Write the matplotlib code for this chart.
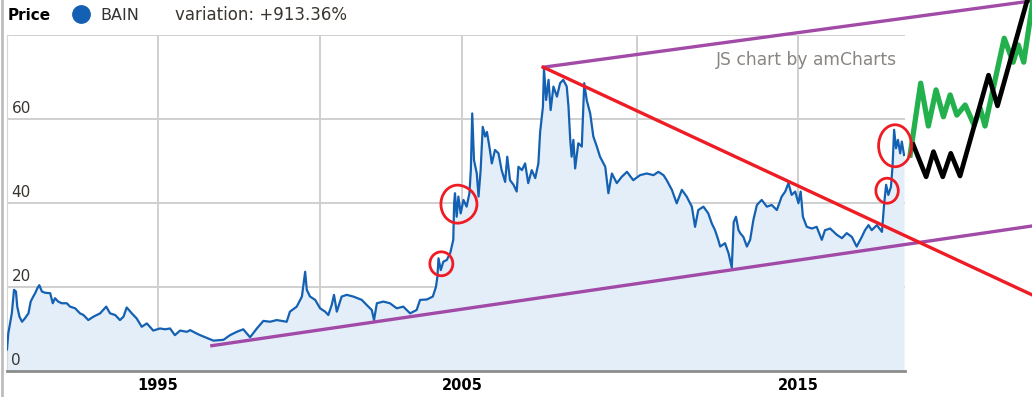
import matplotlib.pyplot as plt
import numpy as np
from matplotlib.patches import Ellipse
from matplotlib.lines import Line2D

# BAIN price history (decimal year, price)
years = [1990.28, 1990.32, 1990.43, 1990.50, 1990.56, 1990.60, 1990.67, 1990.75, 1990.84, 1990.95,
         1991.02, 1991.10, 1991.16, 1991.23, 1991.29, 1991.37, 1991.47, 1991.63, 1991.71, 1991.78,
         1991.88, 1991.99, 1992.15, 1992.25, 1992.41, 1992.56, 1992.67, 1992.82, 1992.98, 1993.19,
         1993.38, 1993.50, 1993.66, 1993.81, 1993.92, 1994.02, 1994.18, 1994.33, 1994.49, 1994.65,
         1994.85, 1995.06, 1995.22, 1995.37, 1995.52, 1995.68, 1995.89, 1995.99, 1996.19, 1996.30,
         1996.71, 1997.02, 1997.22, 1997.43, 1997.63, 1997.84, 1998.05, 1998.25, 1998.46, 1998.66,
         1998.97, 1999.07, 1999.28, 1999.44, 1999.54, 1999.59, 1999.69, 1999.85, 2000.00, 2000.18,
         2000.29, 2000.41, 2000.49, 2000.59, 2000.76, 2000.94, 2001.17, 2001.47, 2001.64, 2001.82,
         2001.90, 2002.00, 2002.23, 2002.46, 2002.70, 2002.93, 2003.17, 2003.40, 2003.52, 2003.76,
         2003.97, 2004.08, 2004.13, 2004.17, 2004.25, 2004.34, 2004.46, 2004.58, 2004.69, 2004.72,
         2004.75, 2004.81, 2004.87, 2004.95, 2005.04, 2005.13, 2005.21, 2005.25, 2005.29, 2005.34,
         2005.42, 2005.47, 2005.53, 2005.59, 2005.66, 2005.71, 2005.78, 2005.85, 2005.94, 2006.04,
         2006.13, 2006.23, 2006.29, 2006.37, 2006.47, 2006.56, 2006.61, 2006.71, 2006.80, 2006.89,
         2006.99, 2007.09, 2007.18, 2007.23, 2007.31, 2007.34, 2007.40, 2007.47, 2007.53, 2007.61,
         2007.71, 2007.80, 2007.89, 2007.99, 2008.04, 2008.06, 2008.09, 2008.13, 2008.18, 2008.23,
         2008.32, 2008.42, 2008.49, 2008.56, 2008.66, 2008.75, 2008.85, 2008.94, 2009.09, 2009.18,
         2009.28, 2009.42, 2009.56, 2009.71, 2009.89, 2010.09, 2010.30, 2010.51, 2010.66, 2010.82,
         2010.92, 2011.08, 2011.23, 2011.39, 2011.54, 2011.70, 2011.80, 2011.90, 2012.06, 2012.21,
         2012.32, 2012.42, 2012.52, 2012.58, 2012.73, 2012.84, 2012.94, 2013.00, 2013.07, 2013.15,
         2013.20, 2013.30, 2013.41, 2013.51, 2013.61, 2013.72, 2013.87, 2014.03, 2014.18, 2014.34,
         2014.49, 2014.60, 2014.70, 2014.80, 2014.91, 2015.01, 2015.08, 2015.15, 2015.27, 2015.43,
         2015.58, 2015.74, 2015.84, 2016.00, 2016.21, 2016.37, 2016.52, 2016.68, 2016.83, 2016.99,
         2017.09, 2017.20, 2017.30, 2017.46, 2017.62, 2017.69, 2017.75, 2017.82, 2017.90, 2017.95,
         2018.00, 2018.06, 2018.12, 2018.19, 2018.24, 2018.31]
prices = [5.2, 9.0, 13.8, 19.4, 19.0, 15.4, 13.0, 11.8, 12.6, 13.8,
          16.6, 17.8, 18.6, 19.8, 20.5, 19.0, 18.7, 18.6, 16.2, 17.4,
          16.6, 16.2, 16.2, 15.4, 15.0, 13.8, 13.4, 12.2, 13.0, 13.8,
          15.4, 13.8, 13.4, 12.2, 13.0, 15.2, 13.8, 12.6, 10.6, 11.4,
          9.7, 10.2, 10.0, 10.2, 8.6, 9.7, 9.4, 9.8, 9.0, 8.6,
          7.3, 7.5, 8.6, 9.4, 10.0, 8.1, 10.2, 12.0, 11.8, 12.2,
          11.8, 14.2, 15.4, 17.8, 23.7, 19.4, 17.8, 17.0, 15.0, 14.2,
          13.4, 15.8, 18.2, 14.2, 17.8, 18.2, 17.8, 17.0, 15.8, 14.6,
          12.2, 16.2, 16.6, 16.2, 15.0, 15.4, 13.8, 14.6, 17.0, 17.1,
          17.8, 20.1, 22.5, 26.9, 24.1, 26.1, 26.5, 28.1, 31.3, 40.0,
          42.4, 36.8, 41.6, 37.6, 40.8, 39.2, 42.4, 47.9, 61.4, 50.3,
          47.1, 41.6, 47.9, 58.2, 55.9, 57.0, 53.5, 49.5, 52.7, 51.9,
          47.9, 45.1, 51.1, 45.5, 44.4, 42.8, 48.7, 47.9, 49.5, 44.8,
          47.9, 46.0, 49.5, 57.0, 63.0, 72.1, 64.6, 69.4, 62.2, 67.8,
          65.4, 68.6, 69.4, 67.8, 63.0, 59.8, 55.1, 51.1, 55.1, 48.3,
          54.3, 53.5, 68.6, 64.6, 61.4, 55.9, 53.5, 51.1, 48.7, 42.4,
          47.1, 44.8, 46.3, 47.5, 45.5, 46.7, 47.1, 46.7, 47.5, 46.7,
          45.5, 43.2, 40.0, 43.2, 41.6, 39.2, 34.4, 38.4, 39.2, 37.6,
          35.2, 33.6, 31.3, 29.7, 30.5, 28.1, 24.7, 35.5, 36.8, 33.6,
          32.9, 32.0, 29.7, 31.3, 36.0, 39.6, 40.8, 39.2, 39.6, 38.4,
          41.6, 42.8, 44.8, 42.0, 42.8, 40.0, 42.8, 36.8, 34.4, 34.0,
          34.4, 31.3, 33.6, 34.0, 32.5, 31.7, 32.9, 32.0, 29.7, 32.0,
          33.6, 34.8, 33.6, 34.8, 33.2, 40.0, 44.4, 42.0, 43.9, 48.7,
          57.5, 53.1, 55.1, 51.9, 54.7, 51.5]

grid_years = [1995, 2000, 2005, 2010, 2015]
grid_labels = ['1995', '', '2005', '', '2015']
y_ticks = [0, 20, 40, 60, 80]
y_labels = ['0', '20', '40', '60', '']

# amCharts spaces its date axis by data points, so years are not evenly spaced
knot_years = [1980, 1995, 2000, 2005, 2010, 2015, 2030]
knot_pos = [-322, 158, 320, 462, 637, 798, 1278]

# hand drawn annotations (year, price)
support_x = [1996.66, 2022.31]
support_y = [6.1, 34.6]
channel_top_x = [2007.32, 2022.31]
channel_top_y = [72.4, 88.2]
downtrend_x = [2007.32, 2022.31]
downtrend_y = [72.4, 18.2]
circles = [(2004.27, 25.6, 0.81, 5.7), (2004.84, 39.8, 1.17, 9.05),
           (2017.78, 43.0, 0.70, 5.95), (2018.03, 53.7, 1.03, 10.0)]
green_x = [2018.50, 2018.83, 2019.07, 2019.31, 2019.54, 2019.75, 2019.96, 2020.22, 2020.50,
           2020.69, 2020.84, 2021.44, 2021.72, 2021.88, 2022.05, 2022.34]
green_y = [51.5, 68.6, 58.4, 67.0, 60.6, 65.8, 61.0, 63.4, 58.6, 62.6, 58.4, 79.3, 73.6,
           77.7, 73.6, 88.4]
black_x = [2018.60, 2019.00, 2019.23, 2019.52, 2019.77, 2020.06, 2020.95, 2021.23, 2022.13, 2022.25]
black_y = [53.9, 46.3, 52.3, 46.3, 51.9, 46.5, 70.5, 63.2, 87.6, 90.3]

W, H = 1032, 397
fig = plt.figure(figsize=(W / 100, H / 100), dpi=100)
ax = fig.add_axes([7 / W, (H - 371.3) / H, 898 / W, 336 / H])

fwd = lambda x: np.interp(x, knot_years, knot_pos)
inv = lambda p: np.interp(p, knot_pos, knot_years)
ax.set_xscale('function', functions=(fwd, inv))

line_col = '#1461b3'
ax.fill_between(years, prices, 0, color='#e4eef8', lw=0, zorder=1)
ax.plot(years, prices, color=line_col, lw=1.6, zorder=3)

ax.set_xlim(1990.28, 2018.34)
ax.set_ylim(0, 80)
ax.set_xticks(grid_years)
ax.set_xticklabels(grid_labels, fontsize=10.5, fontweight='bold')
ax.set_yticks(y_ticks)
ax.set_yticklabels([])
ax.tick_params(length=0, pad=5)
ax.grid(True, color='#cfcfcf', lw=1.4, zorder=2)
ax.set_axisbelow(True)
for s in ['top', 'right']:
    ax.spines[s].set_visible(False)
ax.spines['left'].set_color('#d6d6d6')
ax.spines['bottom'].set_color('#8c8c8c')
ax.spines['bottom'].set_linewidth(2)

for v, lab in zip(y_ticks, y_labels):
    ax.text(0.005, v + 0.8, lab, transform=ax.get_yaxis_transform(), fontsize=11,
            color='#3a3530', va='bottom', ha='left')

# annotations spill out of the plot area
ax.plot(support_x, support_y, color='#a24aa8', lw=2.4, clip_on=False, zorder=5)
ax.plot(channel_top_x, channel_top_y, color='#a24aa8', lw=2.4, clip_on=False, zorder=5)
ax.plot(downtrend_x, downtrend_y, color='#ee1c24', lw=2.4, clip_on=False, zorder=5)
for cx, cy, w, h in circles:
    ax.add_patch(Ellipse((cx, cy), w, h, fill=False, ec='#ee1c24', lw=2, clip_on=False, zorder=6))
ax.plot(green_x, green_y, color='#22b14c', lw=3.8, clip_on=False, zorder=5)
ax.plot(black_x, black_y, color='black', lw=3.4, clip_on=False, zorder=5)

# header
fig.text(8 / W, 1 - 15 / H, 'Price', fontsize=11, fontweight='bold', va='center')
fig.add_artist(Line2D([81 / W], [1 - 14 / H], marker='o', markersize=12.5, color=line_col,
                      transform=fig.transFigure))
fig.text(100 / W, 1 - 15 / H, 'BAIN', fontsize=11.5, color='#333333', va='center')
fig.text(175 / W, 1 - 15 / H, 'variation: +913.36%', fontsize=12, color='#3a3530', va='center')
fig.text(897 / W, 1 - 60 / H, 'JS chart by amCharts', fontsize=12.3, color='#8a8580',
         va='center', ha='right')
fig.add_artist(Line2D([1.5 / W, 1.5 / W], [0, 1], color='#bdbdbd', lw=2, transform=fig.transFigure))

fig.savefig('out.png', dpi=100)
